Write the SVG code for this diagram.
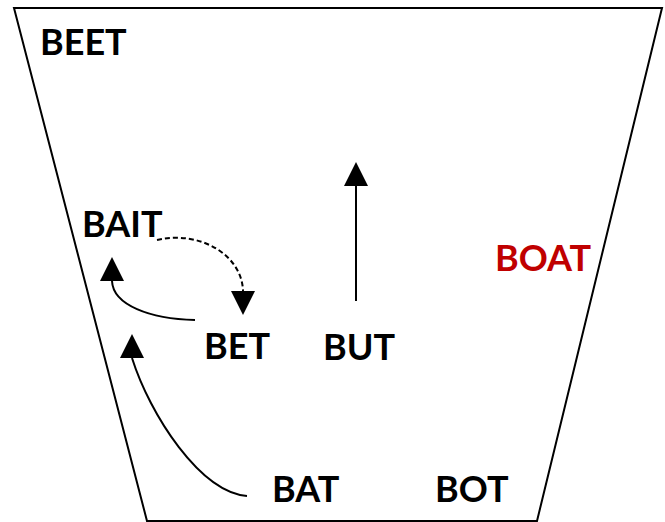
<svg xmlns="http://www.w3.org/2000/svg" width="665" height="522" viewBox="0 0 665 522">
<style>
.lbl{font-family:Lato,"Open Sans","Liberation Sans",sans-serif;font-weight:bold;font-size:36px;fill:#000}
.red{fill:#C00000}
.conn{fill:none;stroke:#000;stroke-width:2}
.dash{stroke-dasharray:5,3}
</style>
<defs>
<marker id="up" markerUnits="userSpaceOnUse" markerWidth="24" markerHeight="24" refX="12" refY="24" orient="0" viewBox="0 0 24 24"><path d="M0,24 L12,0 L24,24 z" fill="#000"/></marker>
<marker id="down" markerUnits="userSpaceOnUse" markerWidth="24" markerHeight="24" refX="12" refY="0" orient="0" viewBox="0 0 24 24"><path d="M0,0 L24,0 L12,24 z" fill="#000"/></marker>
</defs>
<g id="frame"><polygon points="14,8 662,8 537,521 147,521" fill="#fff" stroke="#000" stroke-width="2"/></g>
<g id="connectors">
<path class="conn" d="M356,301 L356,186" marker-end="url(#up)"/>
<path class="conn" d="M195,320 C150,319 113,305 112,281" marker-end="url(#up)"/>
<path class="conn dash" d="M157,240 C200,230 242,255 243,291" marker-end="url(#down)"/>
<path class="conn" d="M247,496 C200,492 150,415 132,358" marker-end="url(#up)"/>
</g>
<g id="BEET"><text class="lbl" x="40" y="55">BEET</text></g>
<g id="BAIT"><text class="lbl" x="82" y="237">BAIT</text></g>
<g id="BET"><text class="lbl" x="204" y="359">BET</text></g>
<g id="BUT"><text class="lbl" x="323" y="360">BUT</text></g>
<g id="BOAT"><text class="lbl red" x="495" y="271">BOAT</text></g>
<g id="BAT"><text class="lbl" x="272" y="502">BAT</text></g>
<g id="BOT"><text class="lbl" x="435" y="502">BOT</text></g>
</svg>
